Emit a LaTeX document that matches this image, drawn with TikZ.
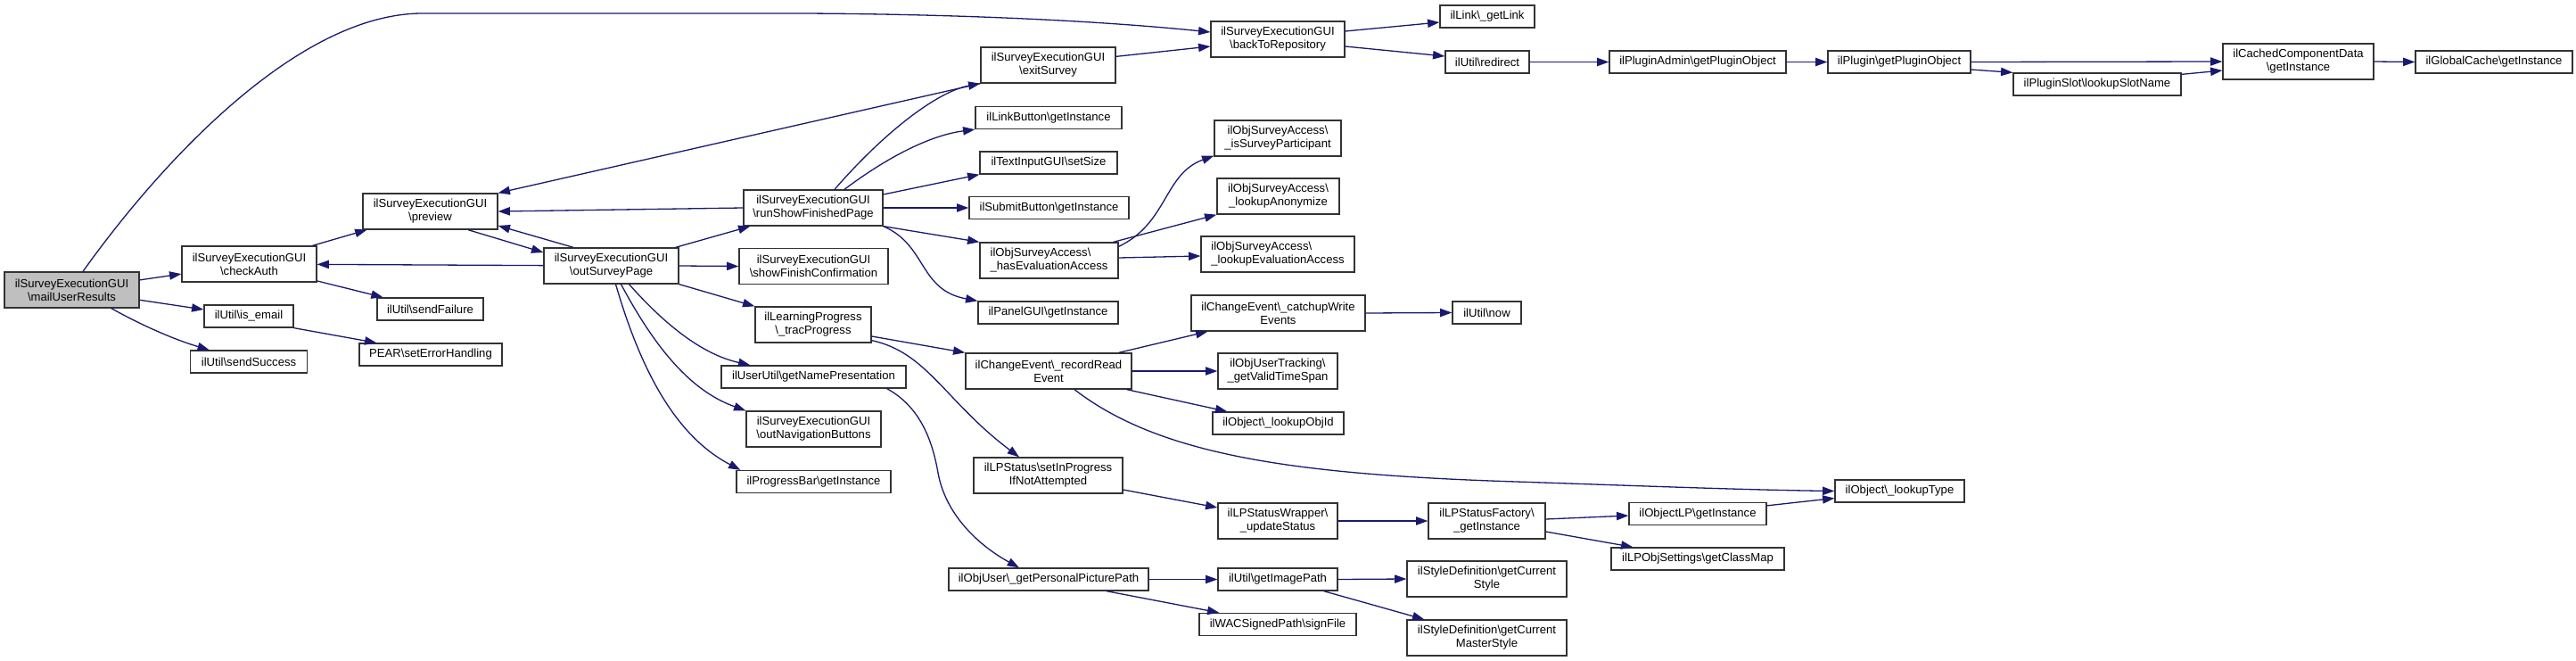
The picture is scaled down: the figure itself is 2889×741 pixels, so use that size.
\documentclass[tikz,border=0pt]{standalone}
\usepackage{fontspec}
\setmainfont{Liberation Sans}
\usetikzlibrary{arrows.meta,calc}
\newcommand\bsl{\textbackslash}
\definecolor{midblue}{HTML}{191970}
\begin{document}
\begin{tikzpicture}[x=1pt,y=-1pt,
  box/.style={draw=black!80, line width=1.3pt, fill=white, inner sep=0pt, align=center,
    font=\fontsize{13.1pt}{15pt}\selectfont},
  one/.style={minimum height=25pt},
  two/.style={minimum height=40pt},
  conn/.style={draw=midblue, line width=1.3pt, -{Triangle[length=13.3pt,width=9.3pt]}}]
\fill[white] (0,0) rectangle (2889,741);
\useasboundingbox (0,0) rectangle (2889,741);
% column 1
\node[box,two,fill=black!25,minimum width=151pt] (mail) at (80.5,325) {ilSurveyExecutionGUI\\\bsl mailUserResults};
% column 2
\node[box,two,minimum width=151pt] (checkAuth) at (279.5,296) {ilSurveyExecutionGUI\\\bsl checkAuth};
\node[box,one,minimum width=100pt] (isemail) at (279,354.5) {ilUtil\bsl is\_email};
\node[box,one,minimum width=131pt] (sendSuccess) at (279,405.5) {ilUtil\bsl sendSuccess};
% column 3
\node[box,two,minimum width=151pt] (preview) at (482.5,237) {ilSurveyExecutionGUI\\\bsl preview};
\node[box,one,minimum width=119pt] (sendFailure) at (482.5,346.5) {ilUtil\bsl sendFailure};
\node[box,one,minimum width=160pt] (pear) at (483,397.5) {PEAR\bsl setErrorHandling};
% column 4
\node[box,two,minimum width=151pt] (outSurveyPage) at (685.5,298) {ilSurveyExecutionGUI\\\bsl outSurveyPage};
% column 5
\node[box,two,minimum width=156pt] (runShow) at (912,233) {ilSurveyExecutionGUI\\\bsl runShowFinishedPage};
\node[box,two,minimum width=167pt] (showFinish) at (912.5,298.5) {ilSurveyExecutionGUI\\\bsl showFinishConfirmation};
\node[box,two,minimum width=130pt] (trackProgress) at (912,364) {ilLearningProgress\\\bsl\_tracProgress};
\node[box,one,minimum width=207pt] (getNamePres) at (912.5,422.5) {ilUserUtil\bsl getNamePresentation};
\node[box,two,minimum width=151pt] (outNav) at (912.5,481) {ilSurveyExecutionGUI\\\bsl outNavigationButtons};
\node[box,one,minimum width=173pt] (progressBar) at (912.5,540) {ilProgressBar\bsl getInstance};
% column 6
\node[box,two,minimum width=151pt] (exitSurvey) at (1175.5,73) {ilSurveyExecutionGUI\\\bsl exitSurvey};
\node[box,one,minimum width=164pt] (linkButton) at (1176,132) {ilLinkButton\bsl getInstance};
\node[box,one,minimum width=154pt] (textInput) at (1176,182.5) {ilTextInputGUI\bsl setSize};
\node[box,one,minimum width=179pt] (submit) at (1176.5,233) {ilSubmitButton\bsl getInstance};
\node[box,two,minimum width=155pt,align=left] (hasEval) at (1176.5,292) {ilObjSurveyAccess\bsl\\\_hasEvaluationAccess};
\node[box,one,minimum width=157pt] (panelGUI) at (1175.5,350.5) {ilPanelGUI\bsl getInstance};
\node[box,two,minimum width=186pt] (recordRead) at (1176,416) {ilChangeEvent\bsl\_recordRead\\Event};
\node[box,two,minimum width=167pt] (setInProgress) at (1175.5,533) {ilLPStatus\bsl setInProgress\\IfNotAttempted};
\node[box,one,minimum width=224pt] (getPersonal) at (1176,649.5) {ilObjUser\bsl\_getPersonalPicturePath};
% column 7
\node[box,two,minimum width=150pt] (backToRepo) at (1433,44) {ilSurveyExecutionGUI\\\bsl backToRepository};
\node[box,two,minimum width=142pt] (isSurveyPart) at (1433,155) {ilObjSurveyAccess\bsl\\\_isSurveyParticipant};
\node[box,two,minimum width=137pt] (lookupAnon) at (1433.5,220) {ilObjSurveyAccess\bsl\\\_lookupAnonymize};
\node[box,two,minimum width=172pt,align=left] (lookupEvalAcc) at (1433,285) {ilObjSurveyAccess\bsl\\\_lookupEvaluationAccess};
\node[box,two,minimum width=195pt] (catchup) at (1433.5,351) {ilChangeEvent\bsl\_catchupWrite\\Events};
\node[box,two,minimum width=134pt] (validTime) at (1433,416) {ilObjUserTracking\bsl\\\_getValidTimeSpan};
\node[box,one,minimum width=147pt] (lookupObjId) at (1433.5,474.5) {ilObject\bsl\_lookupObjId};
\node[box,two,minimum width=134pt] (updateStatus) at (1433,584) {ilLPStatusWrapper\bsl\\\_updateStatus};
\node[box,one,minimum width=134pt] (getImagePath) at (1433,649.5) {ilUtil\bsl getImagePath};
\node[box,one,minimum width=176pt] (signFile) at (1433,700) {ilWACSignedPath\bsl signFile};
% column 8
\node[box,one,minimum width=106pt] (getLink) at (1668,18.5) {ilLink\bsl\_getLink};
\node[box,one,minimum width=94pt] (redirect) at (1668,69.5) {ilUtil\bsl redirect};
\node[box,one,minimum width=77pt] (utilNow) at (1667.5,350.5) {ilUtil\bsl now};
\node[box,two,minimum width=131pt] (lpFactory) at (1667.5,584) {ilLPStatusFactory\bsl\\\_getInstance};
\node[box,two,minimum width=179pt] (curStyle) at (1667.5,649) {ilStyleDefinition\bsl getCurrent\\Style};
\node[box,two,minimum width=179pt] (masterStyle) at (1667.5,715) {ilStyleDefinition\bsl getCurrent\\MasterStyle};
% column 9
\node[box,one,minimum width=198pt] (pluginAdmin) at (1904,69.5) {ilPluginAdmin\bsl getPluginObject};
\node[box,one,minimum width=154pt] (objectLP) at (1904,576) {ilObjectLP\bsl getInstance};
\node[box,one,minimum width=194pt] (classMap) at (1904,626.5) {ilLPObjSettings\bsl getClassMap};
% column 10
\node[box,one,minimum width=160pt] (plugin) at (2130,69.5) {ilPlugin\bsl getPluginObject};
\node[box,one,minimum width=145pt] (lookupType) at (2130.5,550.5) {ilObject\bsl\_lookupType};
% column 11-13
\node[box,one,minimum width=188pt] (pluginSlot) at (2352,94.5) {ilPluginSlot\bsl lookupSlotName};
\node[box,two,minimum width=169pt] (cached) at (2577.5,69) {ilCachedComponentData\\\bsl getInstance};
\node[box,one,minimum width=176pt] (globalCache) at (2797,69.5) {ilGlobalCache\bsl getInstance};

% ---------- connectors ----------
\draw[conn] ($(mail.north)+(12.5,0)$) .. controls (173,192) and (330,15) .. (474,15) -- (900,15)
   .. controls (1100,16) and (1250,25) .. ($(backToRepo.west)+(0,-8)$);
\draw[conn] (mail) -- (checkAuth);
\draw[conn] (mail) -- (isemail);
\draw[conn] (mail.-25) .. controls (165,368) and (200,382) .. ($(sendSuccess.north west)+(22,0)$);
\draw[conn] (checkAuth) -- (preview);
\draw[conn] (checkAuth) -- (sendFailure);
\draw[conn] (isemail.south east) -- ($(pear.north west)+(20,0)$);
\draw[conn] (outSurveyPage) -- (checkAuth);
\draw[conn] ($(preview.south)+(42.5,0)$) -- ($(outSurveyPage.west)+(0,-15)$);
\draw[conn] ($(outSurveyPage.north)+(-42.5,0)$) -- ($(preview.east)+(0,16)$);
\draw[conn] (runShow.west) -- (preview.east);
\draw[conn] (exitSurvey.south west) -- (preview.north east);
\draw[conn] ($(runShow.north)+(24,0)$) .. controls (990,150) and (1050,103) .. (exitSurvey.south west);
\draw[conn] ($(runShow.north)+(35,0)$) .. controls (990,180) and (1040,152) .. (linkButton.south west);
\draw[conn] ($(runShow.east)+(0,-15)$) -- (textInput.south west);
\draw[conn] (runShow.east) -- (submit.west);
\draw[conn] (runShow.south east) -- (hasEval.north west);
\draw[conn] (runShow.south east) .. controls (1040,275) and (1030,325) .. (panelGUI.north west);
\draw[conn] ($(outSurveyPage.north east)+(-4,0)$) -- ($(runShow.south west)+(8,0)$);
\draw[conn] (outSurveyPage.east) -- (showFinish.west);
\draw[conn] (outSurveyPage.south east) -- (trackProgress.north west);
\draw[conn] ($(outSurveyPage.south)+(20,0)$) .. controls (760,380) and (800,400) .. ($(getNamePres.north west)+(33,0)$);
\draw[conn] ($(outSurveyPage.south)+(11,0)$) .. controls (740,400) and (780,440) .. (outNav.north west);
\draw[conn] ($(outSurveyPage.south)+(5,0)$) .. controls (720,420) and (760,490) .. ($(progressBar.north west)+(5,0)$);
\draw[conn] ($(trackProgress.east)+(0,13)$) -- (recordRead.north west);
\draw[conn] ($(trackProgress.south east)+(0,-3)$) .. controls (1040,395) and (1060,450) .. ($(setInProgress.north)+(-32.5,0)$);
\draw[conn] ($(getNamePres.south east)+(-22,0)$) .. controls (1030,455) and (1045,490) .. (1052,530)
   .. controls (1060,575) and (1095,610) .. ($(getPersonal.north)+(-33,0)$);
\draw[conn] ($(recordRead.north east)+(-15,0)$) -- ($(catchup.south west)+(19,0)$);
\draw[conn] (recordRead.east) -- (validTime.west);
\draw[conn] ($(recordRead.south east)+(-6,0)$) -- ($(lookupObjId.north west)+(17,0)$);
\draw[conn] ($(recordRead.south)+(29,0)$) .. controls (1300,510) and (1450,532) .. (1700,540)
   .. controls (1850,545) and (1950,549) .. (lookupType.west);
\draw[conn] (catchup.east) -- (utilNow.west);
\draw[conn] ($(setInProgress.east)+(0,16)$) -- ($(updateStatus.west)+(0,-15)$);
\draw[conn] (updateStatus.east) -- (lpFactory.west);
\draw[conn] ($(lpFactory.east)+(0,-2)$) -- ($(objectLP.west)+(0,2)$);
\draw[conn] ($(lpFactory.east)+(0,12)$) -- ($(classMap.north west)+(25,0)$);
\draw[conn] ($(objectLP.north east)+(0,4)$) -- ($(lookupType.west)+(0,8)$);
\draw[conn] (getPersonal.east) -- (getImagePath.west);
\draw[conn] ($(getPersonal.south)+(65,0)$) -- ($(signFile.north west)+(23,0)$);
\draw[conn] (getImagePath.east) -- (curStyle.west);
\draw[conn] ($(getImagePath.south east)+(-16,0)$) -- ($(masterStyle.north west)+(20,0)$);
\draw[conn] ($(hasEval.north east)+(0,5)$) .. controls (1310,250) and (1305,195) .. ($(isSurveyPart.south west)+(0,-1)$);
\draw[conn] ($(hasEval.north east)+(-6,0)$) -- (lookupAnon.south west);
\draw[conn] ($(hasEval.east)+(0,-3)$) -- ($(lookupEvalAcc.west)+(0,2)$);
\draw[conn] ($(exitSurvey.north east)+(0,11)$) -- ($(backToRepo.west)+(0,8)$);
\draw[conn] ($(backToRepo.east)+(0,-9)$) -- ($(getLink.west)+(0,6.5)$);
\draw[conn] ($(backToRepo.east)+(0,8)$) -- ($(redirect.west)+(0,-6.5)$);
\draw[conn] (redirect.east) -- (pluginAdmin.west);
\draw[conn] (pluginAdmin.east) -- (plugin.west);
\draw[conn] (plugin.east) -- (cached.west);
\draw[conn] ($(plugin.east)+(0,8.5)$) -- (pluginSlot.north west);
\draw[conn] ($(pluginSlot.north east)+(0,2)$) -- ($(cached.west)+(0,10)$);
\draw[conn] (cached.east) -- (globalCache.west);
\end{tikzpicture}
\end{document}
